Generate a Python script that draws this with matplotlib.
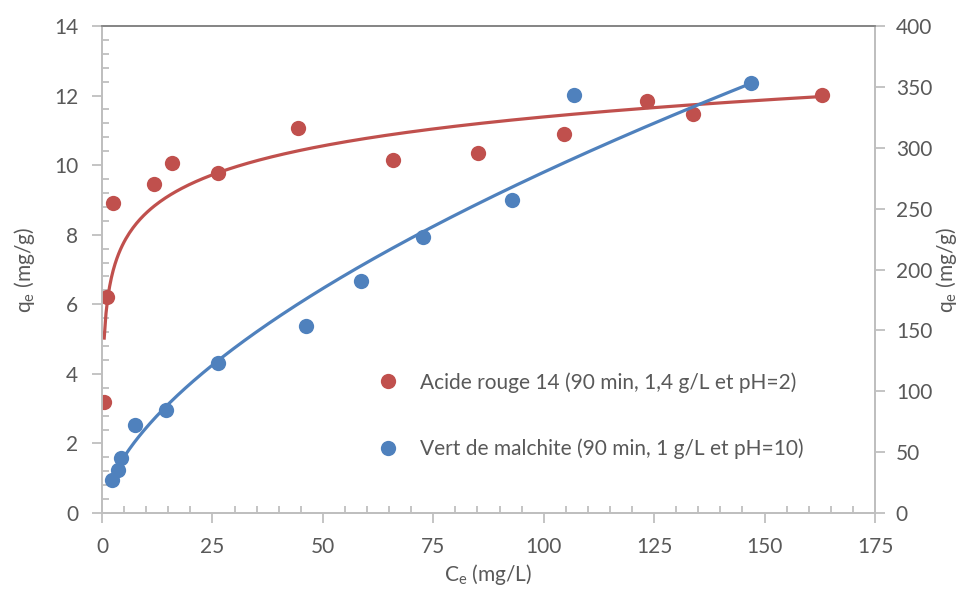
import numpy as np
import matplotlib
matplotlib.use("Agg")
import matplotlib.pyplot as plt
from matplotlib.ticker import MultipleLocator
from matplotlib.lines import Line2D

# Data
ar14_ce = [0.5, 1.2, 2.6, 11.7, 15.8, 26.3, 44.4, 65.8, 85.1, 104.7, 123.3, 133.9, 163.1]
ar14_qe = [3.18, 6.22, 8.92, 9.46, 10.07, 9.76, 11.08, 10.14, 10.34, 10.89, 11.84, 11.46, 12.01]

vm_ce = [2.2, 3.7, 4.3, 7.4, 14.6, 26.2, 46.1, 58.6, 72.6, 92.9, 106.8, 146.9]
vm_qe = [27.1, 35.6, 45.2, 72.0, 84.6, 123.2, 153.3, 190.8, 227.0, 256.8, 343.3, 353.2]

# trendline parameters
ar14_trend = (1.2, 5.86)      # q = a ln(C) + b  (logarithmic)
vm_trend = (17.5, 0.602)      # q = a C^b        (power)

label_ar14 = "Acide rouge 14 (90 min, 1,4 g/L et pH=2)"
label_vm = "Vert de malchite (90 min, 1 g/L et pH=10)"

RED = "#C0504D"
BLUE = "#4F81BD"
TXT = "#595959"
GRID = "#BFBFBF"

plt.rcParams['font.family'] = ['Lato', 'DejaVu Sans']
plt.rcParams['mathtext.fontset'] = 'custom'
plt.rcParams['mathtext.rm'] = 'Lato'

fig = plt.figure(figsize=(9.61, 5.96), dpi=100)
ax = fig.add_axes([102/961, 1-513/596, (875-102)/961, (513-26)/596])
ax2 = ax.twinx()

MS = 11
# red series
ax.plot(ar14_ce, ar14_qe, 'o', color=RED, markersize=MS, markeredgewidth=0, zorder=3)
xr = np.linspace(min(ar14_ce), max(ar14_ce), 400)
ax.plot(xr, ar14_trend[0]*np.log(xr) + ar14_trend[1], color=RED, lw=2.3, zorder=2)

# blue series
ax2.plot(vm_ce, vm_qe, 'o', color=BLUE, markersize=MS, markeredgewidth=0, zorder=3)
xb = np.linspace(min(vm_ce), max(vm_ce), 400)
ax2.plot(xb, vm_trend[0]*xb**vm_trend[1], color=BLUE, lw=2.3, zorder=2)

ax.set_xlim(0, 175)
ax.set_ylim(0, 14)
ax2.set_ylim(0, 400)

ax.xaxis.set_major_locator(MultipleLocator(25))
ax.xaxis.set_minor_locator(MultipleLocator(5))
ax.yaxis.set_major_locator(MultipleLocator(2))
ax.yaxis.set_minor_locator(MultipleLocator(0.4))
ax2.yaxis.set_major_locator(MultipleLocator(50))

for a in (ax, ax2):
    for s in a.spines.values():
        s.set_color(GRID)
        s.set_linewidth(1.3)
    a.spines['top'].set_color('#868686')
    a.spines['top'].set_linewidth(1.3)

ax.tick_params(axis='both', which='major', direction='out', length=7, width=1.3,
               color=GRID, labelcolor=TXT, labelsize=15, pad=10)
ax.tick_params(axis='both', which='minor', direction='in', length=5, width=1.3, color=GRID)
ax2.tick_params(axis='y', which='major', direction='out', length=7, width=1.3,
                color=GRID, labelcolor=TXT, labelsize=15, pad=8)

ax.set_xlabel(r"C$_\mathregular{e}$ (mg/L)", color=TXT, fontsize=15, labelpad=4)
ax.set_ylabel(r"q$_\mathregular{e}$ (mg/g)", color=TXT, fontsize=15, labelpad=12)
ax2.set_ylabel(r"q$_\mathregular{e}$ (mg/g)", color=TXT, fontsize=15, rotation=90)
ax2.yaxis.set_label_coords((934-102)/773, 0.5)

handles = [Line2D([], [], ls='', marker='o', color=RED, markersize=MS, markeredgewidth=0),
           Line2D([], [], ls='', marker='o', color=BLUE, markersize=MS, markeredgewidth=0)]
leg = ax.legend(handles, [label_ar14, label_vm], loc='upper left',
                bbox_to_anchor=((378-102)/773, (513-372)/487), frameon=False,
                fontsize=15, labelspacing=2.2, handletextpad=1.0, handlelength=1.0,
                borderaxespad=0, borderpad=0)
for t in leg.get_texts():
    t.set_color(TXT)

fig.savefig("out.png", dpi=100)
